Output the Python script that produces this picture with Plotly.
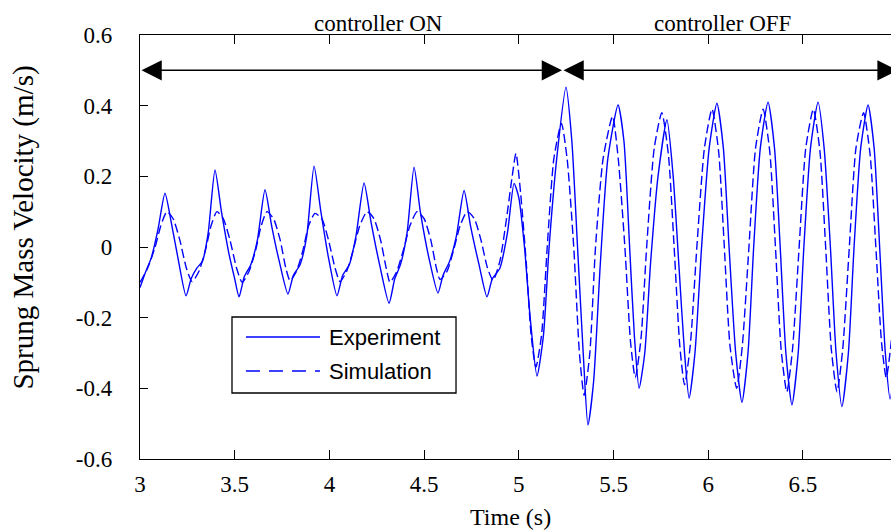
import plotly.graph_objects as go

# ---------------- data ----------------
exp_t = [3.000, 3.030, 3.060, 3.095, 3.132, 3.165, 3.200, 3.243, 3.270, 3.300, 3.330, 3.360, 3.396,
         3.430, 3.470, 3.500, 3.523, 3.550, 3.585, 3.620, 3.660, 3.695, 3.735, 3.781, 3.810, 3.845,
         3.880, 3.919, 3.955, 3.995, 4.040, 4.070, 4.105, 4.140, 4.183, 4.220, 4.265, 4.315, 4.345,
         4.375, 4.410, 4.447, 4.480, 4.525, 4.573, 4.600, 4.635, 4.670, 4.711, 4.745, 4.790, 4.832,
         4.860, 4.900, 4.940, 4.975, 5.000, 5.030, 5.060, 5.096, 5.130, 5.160, 5.200, 5.249, 5.280,
         5.310, 5.340, 5.365, 5.395, 5.430, 5.470, 5.524, 5.555, 5.585, 5.610, 5.635, 5.665, 5.695,
         5.735, 5.782, 5.815, 5.845, 5.875, 5.899, 5.930, 5.965, 6.005, 6.046, 6.080, 6.110, 6.145,
         6.178, 6.210, 6.240, 6.275, 6.316, 6.350, 6.380, 6.410, 6.442, 6.475, 6.505, 6.540, 6.580,
         6.612, 6.645, 6.675, 6.706, 6.740, 6.770, 6.805, 6.844, 6.876, 6.905, 6.935, 6.960, 7.000]
exp_v = [-0.115, -0.070, -0.030, 0.050, 0.152, 0.070, -0.030, -0.138, -0.090, -0.060, -0.040, 0.040, 0.218,
         0.100, -0.020, -0.090, -0.141, -0.085, -0.050, 0.020, 0.162, 0.060, -0.040, -0.133, -0.080, -0.050,
         0.030, 0.229, 0.100, -0.030, -0.138, -0.080, -0.050, 0.030, 0.181, 0.070, -0.050, -0.159, -0.090,
         -0.050, 0.040, 0.226, 0.100, -0.030, -0.130, -0.080, -0.040, 0.030, 0.160, 0.060, -0.050, -0.141,
         -0.090, -0.060, 0.040, 0.180, 0.140, 0.000, -0.200, -0.365, -0.250, 0.000, 0.250, 0.452, 0.300,
         0.000, -0.300, -0.504, -0.380, -0.050, 0.250, 0.402, 0.300, 0.000, -0.250, -0.400, -0.300, -0.050,
         0.200, 0.360, 0.200, -0.050, -0.300, -0.428, -0.300, 0.000, 0.280, 0.407, 0.280, 0.000, -0.300,
         -0.440, -0.300, 0.000, 0.280, 0.410, 0.280, 0.000, -0.300, -0.447, -0.300, 0.000, 0.280, 0.410,
         0.280, 0.000, -0.300, -0.452, -0.300, 0.000, 0.280, 0.402, 0.280, 0.000, -0.300, -0.430, -0.250]

sim_t = [3.000, 3.040, 3.080, 3.110, 3.142, 3.175, 3.210, 3.245, 3.275, 3.310, 3.345, 3.375, 3.406,
         3.440, 3.475, 3.510, 3.539, 3.575, 3.610, 3.640, 3.670, 3.705, 3.740, 3.770, 3.792, 3.825,
         3.860, 3.890, 3.924, 3.960, 3.995, 4.030, 4.056, 4.090, 4.125, 4.160, 4.199, 4.235, 4.270,
         4.300, 4.320, 4.355, 4.390, 4.425, 4.463, 4.500, 4.535, 4.565, 4.584, 4.620, 4.655, 4.690,
         4.727, 4.765, 4.800, 4.835, 4.864, 4.900, 4.935, 4.965, 4.985, 5.010, 5.040, 5.065, 5.090,
         5.120, 5.150, 5.185, 5.225, 5.255, 5.290, 5.320, 5.345, 5.375, 5.405, 5.445, 5.495, 5.525,
         5.560, 5.590, 5.615, 5.645, 5.675, 5.715, 5.755, 5.790, 5.820, 5.850, 5.875, 5.905, 5.940,
         5.980, 6.020, 6.055, 6.085, 6.115, 6.150, 6.180, 6.215, 6.250, 6.290, 6.325, 6.355, 6.385,
         6.415, 6.445, 6.480, 6.515, 6.555, 6.590, 6.620, 6.650, 6.680, 6.710, 6.745, 6.780, 6.820,
         6.855, 6.885, 6.915, 6.940, 6.970, 7.000]
sim_v = [-0.100, -0.060, 0.000, 0.060, 0.100, 0.080, 0.020, -0.060, -0.098, -0.070, -0.010, 0.060, 0.100,
         0.080, 0.020, -0.060, -0.100, -0.070, -0.010, 0.060, 0.100, 0.080, 0.020, -0.060, -0.095, -0.070,
         -0.010, 0.060, 0.095, 0.080, 0.020, -0.060, -0.098, -0.070, -0.010, 0.060, 0.100, 0.080, 0.020,
         -0.060, -0.100, -0.070, -0.010, 0.060, 0.100, 0.080, 0.020, -0.060, -0.092, -0.070, -0.010, 0.060,
         0.100, 0.080, 0.020, -0.060, -0.095, -0.040, 0.080, 0.200, 0.265, 0.150, -0.050, -0.250, -0.340,
         -0.250, 0.000, 0.250, 0.350, 0.250, 0.000, -0.300, -0.420, -0.300, 0.000, 0.250, 0.370, 0.250,
         0.000, -0.270, -0.370, -0.260, 0.000, 0.280, 0.380, 0.260, 0.000, -0.280, -0.390, -0.280, 0.000,
         0.280, 0.390, 0.270, 0.000, -0.280, -0.400, -0.280, 0.000, 0.280, 0.390, 0.270, 0.000, -0.290,
         -0.410, -0.290, 0.000, 0.280, 0.390, 0.270, 0.000, -0.290, -0.410, -0.290, 0.000, 0.280, 0.380,
         0.260, 0.000, -0.270, -0.370, -0.250, -0.050]

x_ticks = [3, 3.5, 4, 4.5, 5, 5.5, 6, 6.5]
x_tick_text = ["3", "3.5", "4", "4.5", "5", "5.5", "6", "6.5"]
y_ticks = [-0.6, -0.4, -0.2, 0, 0.2, 0.4, 0.6]
y_tick_text = ["-0.6", "-0.4", "-0.2", "0", "0.2", "0.4", "0.6"]

switch_time = 5.228
arrow_level = 0.5
series_names = ["Experiment", "Simulation"]

# ---------------- figure ----------------
BLUE = "#0000FF"
SERIF = "Liberation Serif, Times New Roman, serif"
SANS = "Liberation Sans, Arial, sans-serif"

fig = go.Figure()
fig.add_trace(go.Scatter(x=exp_t, y=exp_v, mode="lines", name=series_names[0],
                         line=dict(color=BLUE, width=1.4, shape="spline", smoothing=0.6),
                         showlegend=False))
fig.add_trace(go.Scatter(x=sim_t, y=sim_v, mode="lines", name=series_names[1],
                         line=dict(color=BLUE, width=1.4, dash="9px,4px", shape="spline", smoothing=0.6),
                         showlegend=False))

fig.update_layout(
    width=891, height=532,
    margin=dict(l=140, r=0, t=35, b=73),
    paper_bgcolor="white", plot_bgcolor="white",
    font=dict(family=SERIF, color="black"),
)
fig.update_xaxes(range=[3, 6.965], tickvals=x_ticks, ticktext=x_tick_text,
                 ticks="inside", ticklen=9, tickwidth=1.3, tickcolor="black",
                 showline=True, linecolor="black", linewidth=1.4, mirror="ticks",
                 showgrid=False, zeroline=False, tickfont=dict(family=SERIF, size=23),
                 ticklabelstandoff=4)
fig.update_yaxes(range=[-0.6, 0.6], tickvals=y_ticks, ticktext=y_tick_text,
                 ticks="inside", ticklen=8, tickwidth=1.3, tickcolor="black",
                 showline=True, linecolor="black", linewidth=1.4, mirror=False,
                 showgrid=False, zeroline=False, tickfont=dict(family=SERIF, size=23),
                 ticklabelstandoff=22)

ann = []
# axis titles
ann.append(dict(text="Time (s)", xref="paper", yref="paper", x=0.4927, y=-0.137,
                showarrow=False, font=dict(family=SERIF, size=24), xanchor="center", yanchor="middle"))
ann.append(dict(text="Sprung Mass Velocity (m/s)", xref="paper", yref="paper", x=-0.155, y=0.545,
                textangle=-90, showarrow=False, font=dict(family=SERIF, size=29),
                xanchor="center", yanchor="middle"))
# partially visible last tick label (cut by the right edge, as in the original)
ann.append(dict(text="7", xref="paper", yref="paper", x=1.008, y=-0.062, showarrow=False,
                font=dict(family=SERIF, size=23), xanchor="center", yanchor="middle"))
# controller arrows
ann.append(dict(x=switch_time, y=arrow_level, ax=3, ay=arrow_level, xref="x", yref="y",
                axref="x", ayref="y", text="", showarrow=True, arrowhead=2, startarrowhead=2,
                arrowside="end+start", arrowsize=2.7, startarrowsize=2.7, arrowwidth=1.5,
                arrowcolor="black"))
ann.append(dict(x=7, y=arrow_level, ax=switch_time, ay=arrow_level, xref="x", yref="y",
                axref="x", ayref="y", text="", showarrow=True, arrowhead=2, startarrowhead=2,
                arrowside="end+start", arrowsize=2.7, startarrowsize=2.7, arrowwidth=1.5,
                arrowcolor="black"))
ann.append(dict(text="controller ON", x=4.257, y=1.028, xref="x", yref="paper", showarrow=False,
                font=dict(family=SERIF, size=23), xanchor="center", yanchor="middle"))
ann.append(dict(text="controller OFF", x=6.073, y=1.028, xref="x", yref="paper", showarrow=False,
                font=dict(family=SERIF, size=23), xanchor="center", yanchor="middle"))
# manual legend text
ann.append(dict(text=series_names[0], xref="paper", yref="paper", x=0.249, y=0.2877,
                showarrow=False, font=dict(family=SANS, size=22), xanchor="left", yanchor="middle"))
ann.append(dict(text=series_names[1], xref="paper", yref="paper", x=0.249, y=0.2075,
                showarrow=False, font=dict(family=SANS, size=22), xanchor="left", yanchor="middle"))
fig.update_layout(annotations=ann)

# manual legend box and samples
fig.add_shape(type="rect", xref="paper", yref="paper", x0=0.1225, x1=0.4208, y0=0.1557, y1=0.3349,
              line=dict(color="black", width=1.3), fillcolor="white", layer="above")
fig.add_shape(type="line", xref="paper", yref="paper", x0=0.1411, x1=0.2397, y0=0.2877, y1=0.2877,
              line=dict(color=BLUE, width=1.4))
fig.add_shape(type="line", xref="paper", yref="paper", x0=0.1411, x1=0.2397, y0=0.2075, y1=0.2075,
              line=dict(color=BLUE, width=1.4, dash="14px,9px"))

fig.write_html("out.html")
